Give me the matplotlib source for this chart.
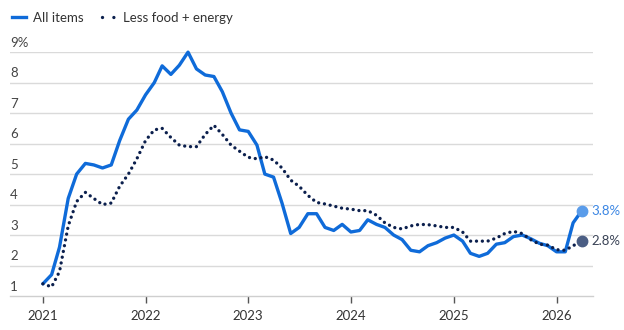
import pandas as pd
import matplotlib
matplotlib.use("Agg")
import matplotlib.pyplot as plt
import matplotlib.dates as mdates
from matplotlib.lines import Line2D

plt.rcParams['font.family'] = ['Lato', 'DejaVu Sans']

# monthly year-over-year change, Jan 2021 .. Apr 2026
months = pd.date_range('2021-01-01', periods=64, freq='MS')

all_items = [
    1.4, 1.7, 2.6, 4.2, 5.0, 5.35, 5.3, 5.2, 5.3, 6.1, 6.8, 7.1,
    7.6, 8.0, 8.55, 8.27, 8.57, 9.0, 8.45, 8.25, 8.2, 7.7, 7.0, 6.45,
    6.4, 5.95, 5.0, 4.9, 4.05, 3.05, 3.25, 3.7, 3.7, 3.25, 3.15, 3.35,
    3.1, 3.15, 3.5, 3.35, 3.25, 3.0, 2.85, 2.5, 2.45, 2.65, 2.75, 2.9,
    3.0, 2.8, 2.4, 2.3, 2.4, 2.7, 2.75, 2.95, 3.0, 2.88, 2.73, 2.65,
    2.45, 2.45, 3.4, 3.8,
]

core = [
    1.4, 1.3, 1.8, 3.3, 4.1, 4.4, 4.2, 4.0, 4.05, 4.6, 5.0, 5.5,
    6.1, 6.45, 6.5, 6.2, 5.95, 5.9, 5.9, 6.3, 6.6, 6.3, 5.95, 5.75,
    5.55, 5.5, 5.57, 5.46, 5.2, 4.8, 4.6, 4.3, 4.07, 4.02, 3.95, 3.88,
    3.85, 3.8, 3.8, 3.65, 3.4, 3.25, 3.2, 3.3, 3.35, 3.34, 3.3, 3.25,
    3.25, 3.1, 2.8, 2.8, 2.8, 2.9, 3.05, 3.12, 3.05, 2.85, 2.7, 2.67,
    2.52, 2.5, 2.65, 2.8,
]

y_ticks = [1, 2, 3, 4, 5, 6, 7, 8, 9]
y_labels = ['1', '2', '3', '4', '5', '6', '7', '8', '9%']
year_ticks = [pd.Timestamp(f'{y}-01-01') for y in range(2021, 2027)]

blue = '#0f6bd9'
navy = '#0b1f4d'

fig = plt.figure(figsize=(6.24, 3.30), dpi=100)
ax = fig.add_axes([0.016, 0.103, 0.934, 0.739])

ax.plot(months, all_items, color=blue, lw=2.4, solid_joinstyle='round',
        solid_capstyle='round', zorder=3, clip_on=False)
ax.plot(months, core, color=navy, lw=2.4, linestyle=(0, (0.01, 1.75)),
        dash_capstyle='round', zorder=4, clip_on=False)

# end markers + labels
ax.plot(months[-1], all_items[-1], 'o', color='#5a9cea', ms=7.5, zorder=5, clip_on=False)
ax.plot(months[-1], core[-1], 'o', color='#4b5e84', ms=7.5, zorder=5, clip_on=False)
ax.annotate(f'{all_items[-1]:.1f}%', xy=(months[-1], all_items[-1]), xytext=(7, 0),
            textcoords='offset points', va='center', ha='left', fontsize=9.5,
            color='#3b86e3', annotation_clip=False)
ax.annotate(f'{core[-1]:.1f}%', xy=(months[-1], core[-1]), xytext=(7, 0),
            textcoords='offset points', va='center', ha='left', fontsize=9.5,
            color='#3a4356', annotation_clip=False)

ax.set_xlim(pd.Timestamp('2020-09-06'), pd.Timestamp('2026-05-10'))
ax.set_ylim(1, 9)

# gridlines with labels sitting above them
for v, lab in zip(y_ticks, y_labels):
    if v > 1:
        ax.axhline(v, color='#dadada', lw=1, zorder=1)
    ax.annotate(lab, xy=(0, v), xycoords=ax.get_yaxis_transform(),
                xytext=(0, 2.5), textcoords='offset points', ha='left', va='bottom',
                fontsize=9.5, color='#444444')

ax.set_yticks([])
for s in ['top', 'right', 'left']:
    ax.spines[s].set_visible(False)
ax.spines['bottom'].set_color('#cfcfcf')
ax.spines['bottom'].set_linewidth(1)

ax.set_xticks(year_ticks)
ax.xaxis.set_major_formatter(mdates.DateFormatter('%Y'))
ax.tick_params(axis='x', length=5, width=1, color='#555555', labelsize=9.5,
               labelcolor='#333333', pad=5)

handles = [
    Line2D([], [], color=blue, lw=2.4),
    Line2D([], [], color=navy, lw=2.4, linestyle=(0, (0.01, 3.4)), dash_capstyle='round'),
]
fig.legend(handles, ['All items', 'Less food + energy'], loc='upper left',
           bbox_to_anchor=(0.0, 1.0), ncol=2, frameon=False, fontsize=9.5,
           handlelength=1.1, handletextpad=0.5, columnspacing=1.4,
           labelcolor='#333333')

fig.savefig('out.png', dpi=100)
